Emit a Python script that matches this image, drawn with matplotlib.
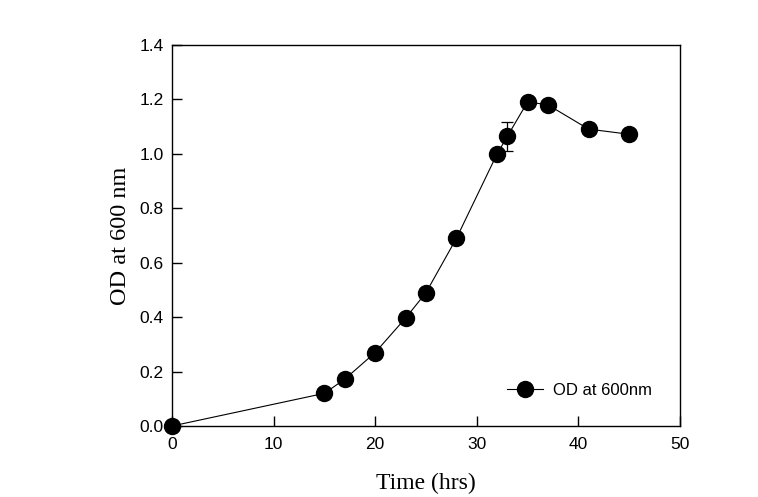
import matplotlib
matplotlib.use("Agg")
import matplotlib.pyplot as plt

time_hrs = [0, 15, 17, 20, 23, 25, 28, 32, 33, 35, 37, 41, 45]
od600 = [0.0, 0.12, 0.172, 0.27, 0.397, 0.49, 0.69, 1.0, 1.064, 1.191, 1.18, 1.091, 1.072]
od_err = [0, 0, 0, 0, 0, 0, 0, 0, 0.052, 0, 0, 0, 0]
x_ticks = [0, 10, 20, 30, 40, 50]
y_ticks = [0.0, 0.2, 0.4, 0.6, 0.8, 1.0, 1.2, 1.4]

fig = plt.figure(figsize=(7.58, 4.97), dpi=100)
ax = fig.add_axes([172/758, 1-426/497, (680-172)/758, (426-45)/497])

ax.errorbar(time_hrs, od600, yerr=od_err, fmt='none', ecolor='black',
            elinewidth=0.9, capsize=4.5, capthick=0.9, zorder=2)
ax.plot(time_hrs, od600, '-o', color='black', markersize=11.5, linewidth=0.8,
        label='OD at 600nm', clip_on=False, zorder=3)

ax.set_xlim(0, 50)
ax.set_ylim(0, 1.4)
ax.set_xticks(x_ticks)
ax.set_xticklabels([str(t) for t in x_ticks])
ax.set_yticks(y_ticks)
ax.set_yticklabels([f"{t:.1f}" for t in y_ticks])

for sp in ax.spines.values():
    sp.set_linewidth(1.0)
ax.tick_params(direction='in', length=7, width=1.0, labelsize=12.5,
               top=False, right=False)
ax.tick_params(axis='x', pad=8)
ax.tick_params(axis='y', pad=6)
for lbl in ax.get_xticklabels() + ax.get_yticklabels():
    lbl.set_fontfamily('Liberation Sans')

ax.set_xlabel('Time (hrs)', fontfamily='Liberation Serif', fontsize=17, labelpad=15)
ax.set_ylabel('OD at 600 nm', fontfamily='Liberation Serif', fontsize=17.5, labelpad=6)

leg = ax.legend(loc='lower right', bbox_to_anchor=(0.975, 0.035), frameon=False,
                prop={'family': 'Liberation Sans', 'size': 12}, handlelength=2.2,
                handletextpad=0.6)

fig.savefig('out.png', dpi=100)
